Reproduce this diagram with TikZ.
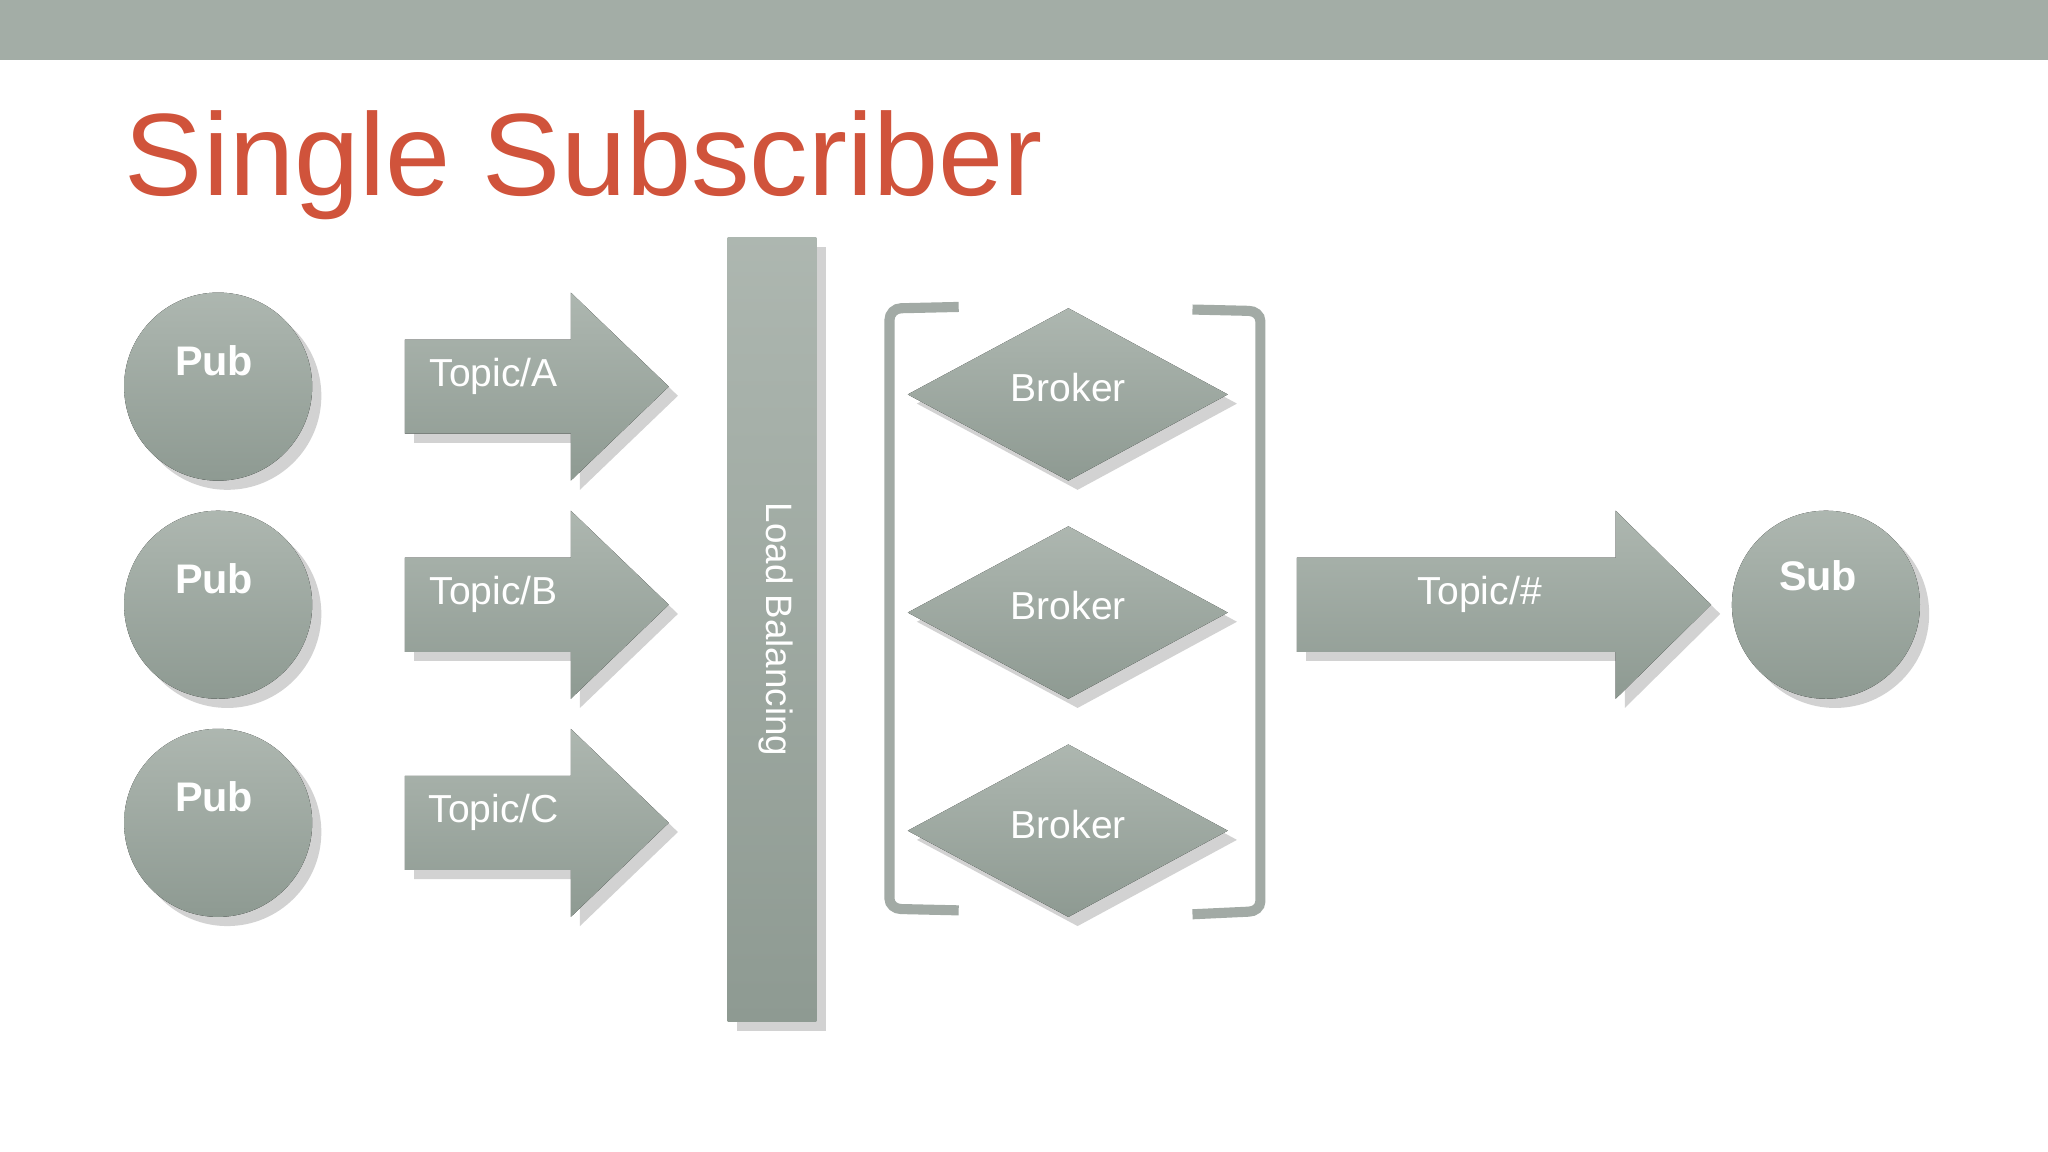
\documentclass[tikz,border=0pt]{standalone}
\usepackage{fontspec}
\setmainfont{Liberation Sans}
\usetikzlibrary{shadows}
\definecolor{sage}{HTML}{9FAAA2}
\definecolor{sagedark}{HTML}{8E9A92}
\definecolor{bar}{HTML}{A3ADA6}
\definecolor{titlered}{HTML}{D0533B}
\definecolor{brk}{HTML}{A2AAA5}
\tikzset{
  shp/.style={top color=sage!85!white, bottom color=sagedark, draw=none, drop shadow={opacity=0.35,shadow xshift=2pt,shadow yshift=-2pt}},
  lbl/.style={text=white, font=\fontsize{8.5}{10}\selectfont},
  blbl/.style={text=white, font=\bfseries\fontsize{9}{10}\selectfont},
}
\begin{document}
\begin{tikzpicture}[x=0.01cm,y=-0.01cm]
\useasboundingbox (0,0) rectangle (1568,882);
\fill[white] (0,0) rectangle (1568,882);
\fill[bar] (0,0) rectangle (1568,46);
\node[anchor=base west, text=titlered, font=\fontsize{25.5}{28}\selectfont, inner sep=0] (title) at (95,150) {Single Subscriber};
% Pub circles
\foreach \y/\n in {296/1,463/2,630/3}{
  \fill[shp] (167,\y) circle (72);
  \node[blbl] (pub\n) at (164,\y-20) {Pub};
}
\fill[shp] (1398,463) circle (72);
\node[blbl] (sub) at (1392,441) {Sub};
% topic arrows
\foreach \y/\t in {296/A,463/B,630/C}{
  \fill[shp] (310,\y-36) -- (437,\y-36) -- (437,\y-72) -- (512,\y) -- (437,\y+72) -- (437,\y+36) -- (310,\y+36) -- cycle;
  \node[lbl] (topic\t) at (378,\y-8) {Topic/\t};
}
% load balancing
\fill[shp] (557,182) rectangle (625,782);
\node[lbl, rotate=-90, font=\fontsize{8}{10}\selectfont] (lb) at (594,482) {Load Balancing};
% brokers
\foreach \y/\n in {302/1,469/2,636/3}{
  \fill[shp] (695,\y) -- (818,\y-66) -- (940,\y) -- (818,\y+66) -- cycle;
  \node[lbl] (broker\n) at (818,\y-5) {Broker};
}
% brackets
\draw[brk, line width=2.2pt] (734,235) -- (690,236) to[out=180,in=90] (681,245) -- (681,688) to[out=-90,in=180] (690,696) -- (734,697);
\draw[brk, line width=2.2pt] (913,237) -- (956,238) to[out=0,in=90] (965,246) -- (965,690) to[out=-90,in=0] (956,698) -- (913,700);
% topic/#
\fill[shp] (993,427) -- (1237,427) -- (1237,391) -- (1310,463) -- (1237,535) -- (1237,499) -- (993,499) -- cycle;
\node[lbl] (topicall) at (1133,455) {Topic/\#};
\end{tikzpicture}
\end{document}
